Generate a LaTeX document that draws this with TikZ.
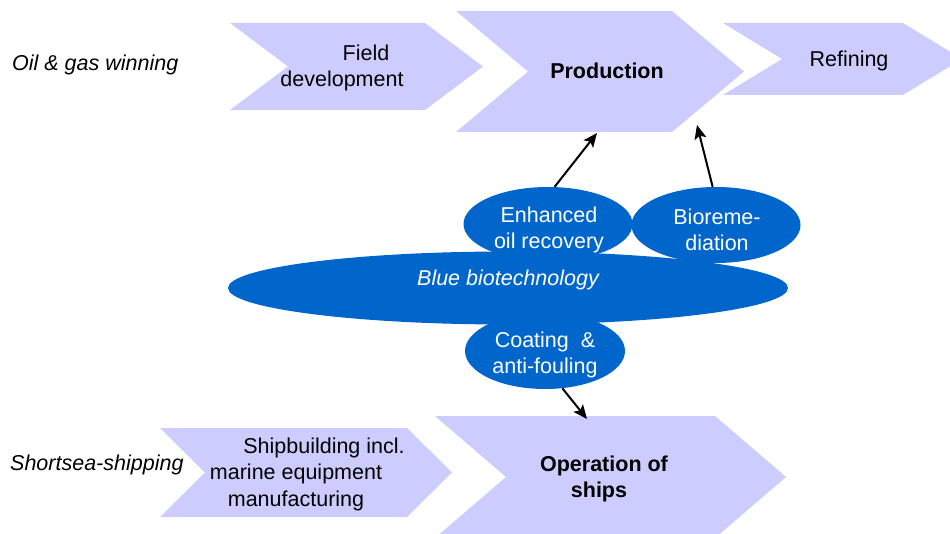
\documentclass[tikz,border=0pt]{standalone}
\usepackage{fontspec}
\setmainfont{Liberation Sans}
\usepackage{tikz}
\usetikzlibrary{positioning,arrows.meta,shapes.geometric}
\definecolor{lilac}{HTML}{CCCCFF}
\definecolor{seablue}{HTML}{0066CC}
\newcommand{\basefont}{\fontsize{21.5pt}{26.5pt}\selectfont}
% chevron: left x, top y, shoulder x, bottom y, point depth
\newcommand{\chevron}[5]{%
  \fill[lilac] (#1,#2) -- (#3,#2) -- ({#3+#5},{(#2+#4)/2}) -- (#3,#4) -- (#1,#4)
    -- ({#1+#5},{(#2+#4)/2}) -- cycle;}
\tikzset{
  stage/.style={align=center, inner sep=0pt, font=\basefont},
  keystage/.style={stage, font=\basefont\bfseries},
  chain/.style={anchor=west, inner sep=0pt, font=\basefont\itshape},
  blob/.style={ellipse, fill=seablue, inner sep=0pt},
  onblob/.style={text=white, align=center, inner sep=0pt, font=\basefont},
  lift/.style={-{Stealth[length=14pt,width=12pt,inset=3pt]}, line width=2pt},
}
\begin{document}
\begin{tikzpicture}[x=1pt, y=-1pt]
  \useasboundingbox (0,0) rectangle (950,534);
  % oil & gas chain
  \chevron{230}{23}{425}{110}{58}
  \chevron{456}{11}{672}{132}{72}
  \chevron{723}{23}{903}{95}{59}
  % shipping chain
  \chevron{160}{428}{407}{517}{45}
  \chevron{435}{416}{715}{538}{71}

  \node[chain] (oilgas) at (12,65) {Oil \& gas winning};
  \node[chain] (shortsea) at (10,465) {Shortsea-shipping};

  \node[stage] (field) at (342,68) {\hspace*{48pt}Field\\development};
  \node[keystage] (prod) at (607,71) {Production};
  \node[stage] (refi) at (849,61) {Refining};
  \node[stage] (ship) at (296,474) {\hspace*{56pt}Shipbuilding incl.\\marine equipment\\manufacturing};
  \node[keystage] (ops) at (604,479) {Operation of\\ships\hspace*{10pt}};

  % blue biotech
  \node[blob, minimum width=560pt, minimum height=73pt] (bbt) at (508,288) {};
  \node[blob, minimum width=169pt, minimum height=74pt] (eor) at (548,224) {};
  \node[blob, minimum width=169pt, minimum height=76pt] (bio) at (716,225) {};
  \node[blob, minimum width=160pt, minimum height=76pt] (coat) at (545,351) {};
  \node[onblob, font=\basefont\itshape] (bbtlbl) at (508,280) {Blue biotechnology};
  \node[onblob] (eorlbl) at (549,230) {Enhanced\\oil recovery};
  \node[onblob] (biolbl) at (717,230) {Bioreme-\\diation};
  \node[onblob] (coatlbl) at (545,355) {Coating~~\&\\anti-fouling};

  \coordinate (prodfoot1) at (597,133);
  \coordinate (prodfoot2) at (697,125);
  \coordinate (opshead) at (587,419);
  \draw[lift] (eor.80) -- (prodfoot1);
  \draw[lift] (bio.95) -- (prodfoot2);
  \draw[lift] (coat.-65) -- (opshead);
\end{tikzpicture}
\end{document}
